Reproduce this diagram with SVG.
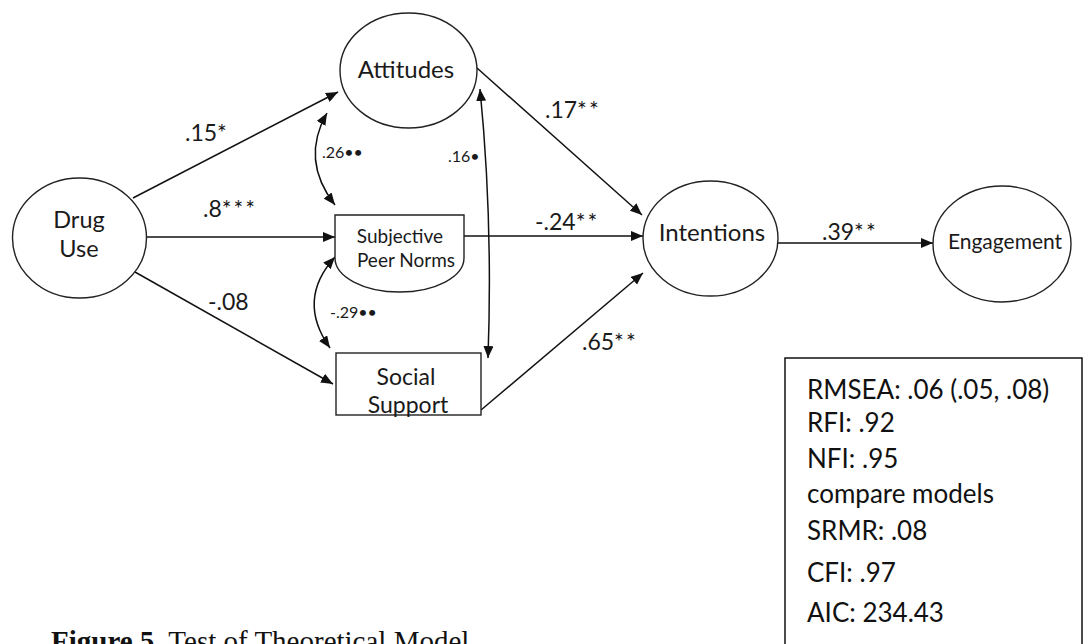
<svg xmlns="http://www.w3.org/2000/svg" width="1085" height="644" viewBox="0 0 1085 644">
<defs>
<marker id="ah" viewBox="0 0 12 10" refX="12" refY="5" markerWidth="12" markerHeight="10" markerUnits="userSpaceOnUse" orient="auto-start-reverse">
<path d="M0,0 L12,5 L0,10 Z" fill="#111"/>
</marker>
</defs>
<style>
.n{fill:#fff;stroke:#222;stroke-width:1.4}
.t{font-family:Lato,"Liberation Sans",sans-serif;fill:#1a1a1a;text-anchor:middle}
.l{font-family:Lato,"Liberation Sans",sans-serif;fill:#1a1a1a;font-size:23px}
.a{letter-spacing:2px}
.s{font-family:Lato,"Liberation Sans",sans-serif;fill:#1a1a1a;font-size:16px}
.c{fill:none;stroke:#111;stroke-width:1.5}
.st{font-family:Lato,"Liberation Sans",sans-serif;fill:#111;font-size:26px}
</style>
<rect width="1085" height="644" fill="#fff"/>
<g id="connectors">
<line class="c" x1="133" y1="198" x2="338" y2="92" marker-end="url(#ah)"/>
<line class="c" x1="147" y1="237" x2="335" y2="237" marker-end="url(#ah)"/>
<line class="c" x1="135" y1="272" x2="333" y2="384" marker-end="url(#ah)"/>
<line class="c" x1="477" y1="68" x2="642" y2="215" marker-end="url(#ah)"/>
<line class="c" x1="464" y1="236" x2="643" y2="236" marker-end="url(#ah)"/>
<line class="c" x1="481" y1="410" x2="643" y2="273" marker-end="url(#ah)"/>
<line class="c" x1="778" y1="243" x2="933" y2="243" marker-end="url(#ah)"/>
<path class="c" d="M480,89 Q493,220 488,358" marker-start="url(#ah)" marker-end="url(#ah)"/>
<path class="c" d="M327,113 Q300,160 335,205" marker-start="url(#ah)" marker-end="url(#ah)"/>
<path class="c" d="M335,257 Q296,300 330,348" marker-start="url(#ah)" marker-end="url(#ah)"/>
<text class="l" x="185" y="141">.15<tspan class="a">*</tspan></text>
<text class="l" x="203" y="217">.8<tspan class="a">***</tspan></text>
<text class="l" x="208" y="310">-.08</text>
<text class="l" x="545" y="118">.17<tspan class="a">**</tspan></text>
<text class="l" x="535" y="230">-.24<tspan class="a">**</tspan></text>
<text class="l" x="582" y="350">.65<tspan class="a">**</tspan></text>
<text class="l" x="822" y="240">.39<tspan class="a">**</tspan></text>
<text class="s" x="322" y="158">.26••</text>
<text class="s" x="448" y="162">.16•</text>
<text class="s" x="330" y="318">-.29••</text>
</g>
<g id="drug-use">
<ellipse class="n" cx="79.5" cy="238" rx="67" ry="60"/>
<text class="t" font-size="23.5" x="79" y="228">Drug</text>
<text class="t" font-size="23.5" x="79" y="257">Use</text>
</g>
<g id="attitudes">
<ellipse class="n" cx="408.5" cy="70.5" rx="68.5" ry="57.5"/>
<text class="t" font-size="24" x="406" y="78">Attitudes</text>
</g>
<g id="subjective-peer-norms">
<path class="n" d="M335,215 H464 V258 A64.5,34 0 0 1 335,258 Z"/>
<text class="t" font-size="19" x="400" y="243">Subjective</text>
<text class="t" font-size="19" x="406" y="267">Peer Norms</text>
</g>
<g id="social-support">
<rect class="n" x="336" y="353" width="145" height="62"/>
<text class="t" font-size="23" x="406" y="385">Social</text>
<text class="t" font-size="23" x="408" y="413">Support</text>
</g>
<g id="intentions">
<ellipse class="n" cx="710.5" cy="238.5" rx="67.5" ry="57.5"/>
<text class="t" font-size="24" x="712" y="241">Intentions</text>
</g>
<g id="engagement">
<ellipse class="n" cx="1002" cy="244" rx="69" ry="58"/>
<text class="t" font-size="21" x="1005" y="249">Engagement</text>
</g>
<g id="fit-stats">
<rect x="785" y="358" width="297" height="300" fill="#fff" stroke="#111" stroke-width="1.5"/>
<text class="st" x="807" y="399">RMSEA: .06 (.05, .08)</text>
<text class="st" x="807" y="432">RFI: .92</text>
<text class="st" x="807" y="468">NFI: .95</text>
<text class="st" x="807" y="503">compare models</text>
<text class="st" x="807" y="540">SRMR: .08</text>
<text class="st" x="807" y="582">CFI: .97</text>
<text class="st" x="807" y="622">AIC: 234.43</text>
</g>
<text x="51" y="651" font-family="Liberation Serif,serif" font-size="29" fill="#111"><tspan font-weight="bold">Figure 5</tspan><tspan font-weight="bold">.</tspan> Test of Theoretical Model</text>
</svg>
